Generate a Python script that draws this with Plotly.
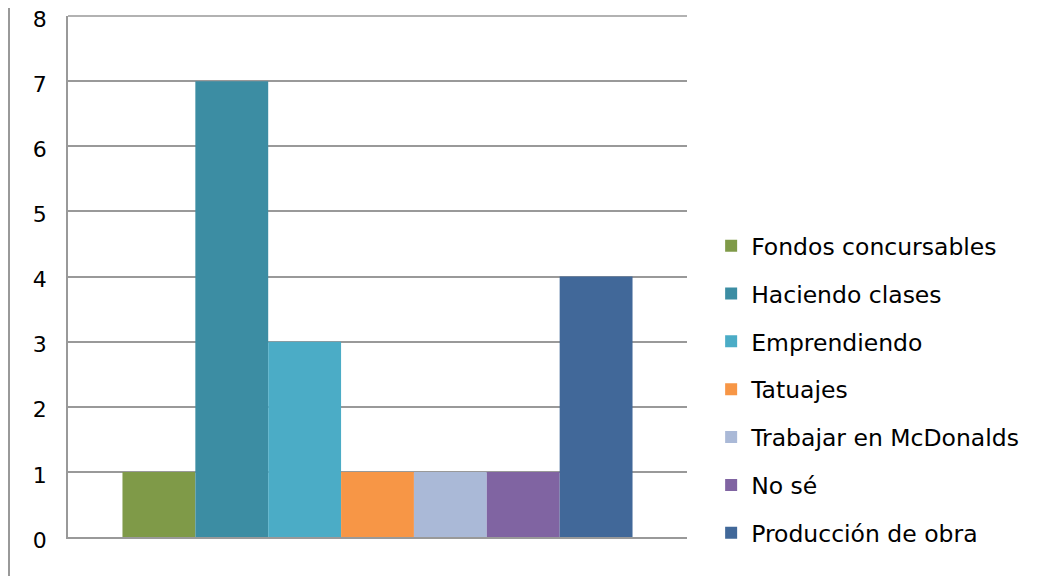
import plotly.graph_objects as go

categories = ["Respuestas"]
series_names = ["Fondos concursables", "Haciendo clases", "Emprendiendo", "Tatuajes",
                "Trabajar en McDonalds", "No sé", "Producción de obra"]
series_values = [1, 7, 3, 1, 1, 1, 4]
series_colors = ["#7F9A48", "#3C8DA3", "#4BACC6", "#F79646", "#AAB9D7", "#8064A2", "#416899"]
y_ticks = [0, 1, 2, 3, 4, 5, 6, 7, 8]

fig = go.Figure()
for name, val, col in zip(series_names, series_values, series_colors):
    fig.add_trace(go.Bar(x=categories, y=[val], name=name, marker=dict(color=col, line=dict(width=0)),
                         legendgroup=name))

fig.update_layout(
    width=1043, height=568,
    margin=dict(l=60, r=364, t=8, b=39),
    plot_bgcolor="white", paper_bgcolor="white",
    barmode="group", bargap=0.176, bargroupgap=0,
    font=dict(family="DejaVu Sans", color="#000000"),
    showlegend=True,
    legend=dict(x=1.039, xanchor="left", y=0.601, yanchor="top",
                font=dict(size=23.5, family="DejaVu Sans", color="#000000"),
                tracegroupgap=14.3, itemwidth=30, traceorder="grouped"),
    xaxis=dict(range=[-0.5, 0.5], showticklabels=False, showgrid=False, zeroline=False,
               showline=True, linecolor="#999999", linewidth=1.5, ticks=""),
    yaxis=dict(range=[0, 8], tickvals=y_ticks, showgrid=True, gridcolor="#999999", gridwidth=1.5,
               zeroline=False, showline=True, linecolor="#999999", linewidth=1.5, automargin=False,
               ticklabeloverflow="allow", ticklabelshift=3,
               ticks="", ticklabelstandoff=15, tickfont=dict(size=22, family="DejaVu Sans")),
    shapes=[dict(type="line", xref="paper", yref="paper", x0=-59/619, x1=-59/619, y0=-0.2, y1=1.2,
                 line=dict(color="#999999", width=2)),
            dict(type="line", xref="paper", yref="paper", x0=0, x1=1, y0=1, y1=1,
                 line=dict(color="#999999", width=1.5))],
)

fig.write_html("out.html")
